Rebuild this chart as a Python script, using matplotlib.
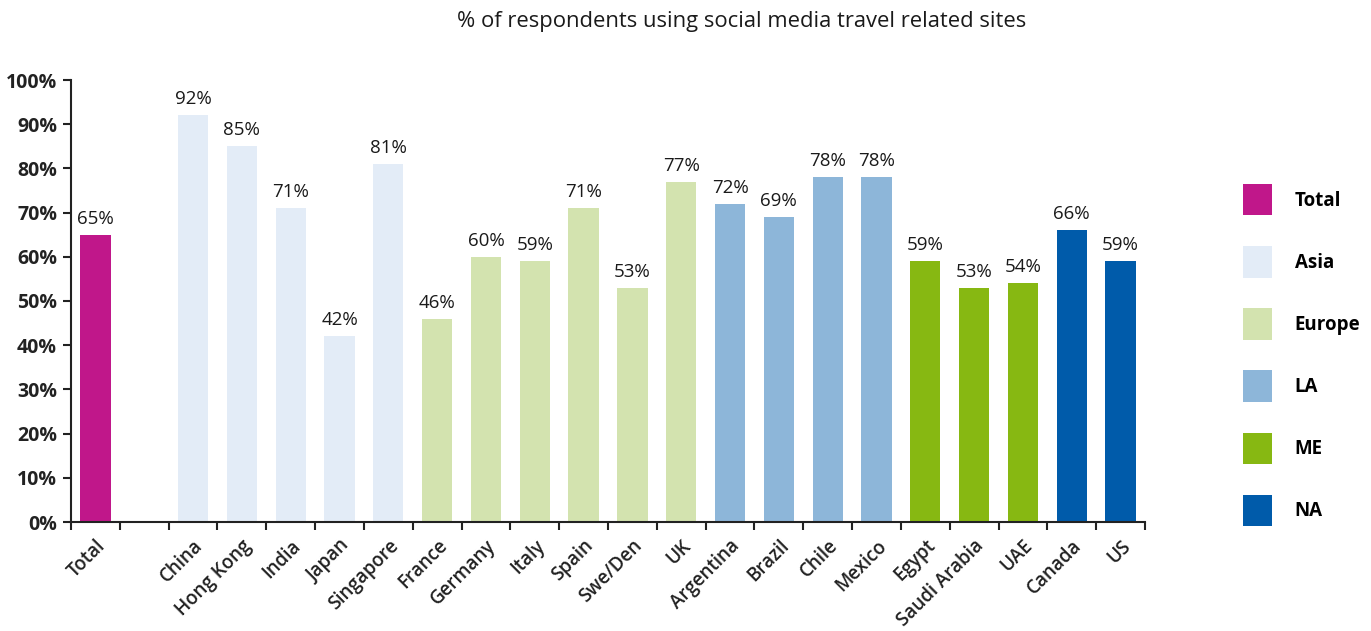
import matplotlib
matplotlib.use("Agg")
import matplotlib.pyplot as plt
from matplotlib.patches import Patch
from matplotlib.ticker import FixedLocator, PercentFormatter

plt.rcParams['font.family'] = ['Open Sans', 'DejaVu Sans']

# Survey results by market
categories = ["Total", "China", "Hong Kong", "India", "Japan", "Singapore",
              "France", "Germany", "Italy", "Spain", "Swe/Den", "UK",
              "Argentina", "Brazil", "Chile", "Mexico",
              "Egypt", "Saudi Arabia", "UAE", "Canada", "US"]
values = [65, 92, 85, 71, 42, 81,
          46, 60, 59, 71, 53, 77,
          72, 69, 78, 78,
          59, 53, 54, 66, 59]
regions = ["Total", "Asia", "Asia", "Asia", "Asia", "Asia",
           "Europe", "Europe", "Europe", "Europe", "Europe", "Europe",
           "LA", "LA", "LA", "LA",
           "ME", "ME", "ME", "NA", "NA"]
region_order = ["Total", "Asia", "Europe", "LA", "ME", "NA"]
region_colors = {"Total": "#C0178A", "Asia": "#E3ECF7", "Europe": "#D3E3AF",
                 "LA": "#8DB6D9", "ME": "#87B812", "NA": "#005BAA"}

# leave one empty slot between the overall total and the markets
positions = [0] + [i + 1 for i in range(1, len(categories))]
n_slots = positions[-1] + 1

fig = plt.figure(figsize=(13.71, 6.31), dpi=100)
ax = fig.add_axes([71 / 1371, 1 - 522 / 631, (1145 - 71) / 1371, (522 - 80) / 631])

colors = [region_colors[r] for r in regions]
bars = ax.bar(positions, values, width=0.62, color=colors, zorder=2)

for x, v in zip(positions, values):
    ax.annotate(f"{v}%", xy=(x, v), xytext=(0, 5), textcoords="offset points",
                ha="center", va="bottom", fontsize=13.5, color="#1a1a1a")

ax.set_xlim(-0.5, n_slots - 0.5)
ax.set_ylim(0, 100)

ax.yaxis.set_major_locator(FixedLocator(range(0, 101, 10)))
ax.yaxis.set_major_formatter(PercentFormatter(decimals=0))
for lbl in ax.get_yticklabels():
    lbl.set_fontweight("bold")
ax.tick_params(axis="y", direction="out", length=6, width=1.5, colors="#222222",
               labelsize=14, pad=4)

ax.set_xticks(positions)
ax.set_xticklabels(categories, rotation=45, ha="right", rotation_mode="anchor",
                   fontsize=13.5, fontweight="semibold")
ax.set_xticks([p - 0.5 for p in range(n_slots + 1)], minor=True)
ax.tick_params(axis="x", which="major", length=0, pad=10, colors="#222222")
ax.tick_params(axis="x", which="minor", direction="out", length=6, width=1.5,
               color="#222222")

for side in ("top", "right"):
    ax.spines[side].set_visible(False)
for side in ("left", "bottom"):
    ax.spines[side].set_linewidth(1.5)
    ax.spines[side].set_color("#222222")

fig.text(0.541, 0.966, "% of respondents using social media travel related sites",
         ha="center", va="center", fontsize=15.8, color="#1a1a1a")

handles = [Patch(facecolor=region_colors[r], edgecolor="none", label=r)
           for r in region_order]
leg = fig.legend(handles=handles, loc="upper left",
                 bbox_to_anchor=(1243 / 1371, 1 - 184 / 631),
                 frameon=False, fontsize=13.5, handlelength=1.55,
                 handleheight=2.2, labelspacing=1.64, handletextpad=1.2,
                 borderaxespad=0, borderpad=0)
for t in leg.get_texts():
    t.set_fontweight("bold")

fig.savefig("out.png", dpi=100)
